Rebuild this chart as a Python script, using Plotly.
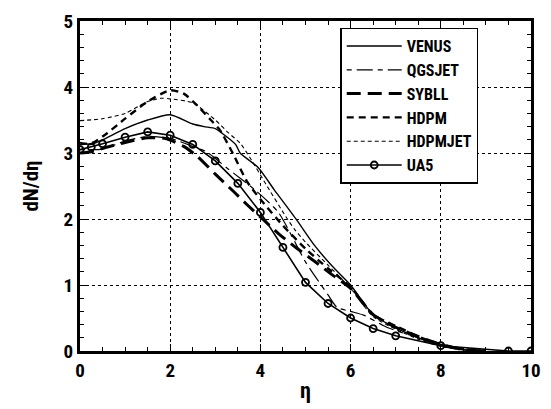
import plotly.graph_objects as go

# ---- data ----
venus_x = [0, 0.25, 0.5, 1.0, 1.5, 2.0, 2.5, 2.75, 3.0, 3.15, 3.45, 3.55, 3.95, 4.3, 4.8, 5.2, 5.6, 6.0, 6.5, 7.0, 7.5, 8.0, 8.5, 9.0]
venus_y = [3.16, 3.13, 3.2, 3.37, 3.5, 3.58, 3.44, 3.4, 3.37, 3.3, 3.13, 3.0, 2.78, 2.45, 1.99, 1.6, 1.28, 1.0, 0.55, 0.35, 0.2, 0.08, 0.02, 0.0]

qgsjet_x = [0, 0.5, 1.0, 1.5, 2.0, 2.5, 2.8, 3.3, 3.9, 4.4, 5.0, 5.5, 5.7, 6.0, 6.3, 6.8, 7.5, 7.9, 8.5, 9.0]
qgsjet_y = [3.05, 3.06, 3.18, 3.25, 3.22, 3.1, 3.02, 2.75, 2.43, 2.1, 1.35, 0.85, 0.66, 0.6, 0.54, 0.36, 0.2, 0.12, 0.02, 0.0]

sybll_x = [0, 0.25, 0.5, 1.0, 1.5, 1.9, 2.3, 2.6, 3.0, 3.4, 3.7, 4.0, 4.4, 4.8, 5.2, 5.6, 6.0, 6.5, 7.0, 7.5, 8.0, 8.5, 9.0]
sybll_y = [3.0, 3.02, 3.07, 3.16, 3.23, 3.22, 3.1, 2.95, 2.68, 2.42, 2.22, 2.03, 1.78, 1.56, 1.36, 1.15, 0.95, 0.55, 0.36, 0.22, 0.1, 0.02, 0.0]

hdpm_x = [0, 0.3, 0.6, 1.0, 1.5, 2.0, 2.3, 2.6, 2.9, 3.1, 3.4, 3.7, 4.0, 4.5, 5.0, 5.5, 6.0, 6.5, 7.0, 7.5, 8.0, 8.5, 9.0]
hdpm_y = [3.13, 3.16, 3.3, 3.52, 3.78, 3.95, 3.9, 3.72, 3.5, 3.35, 2.98, 2.57, 2.3, 1.9, 1.55, 1.25, 0.97, 0.55, 0.38, 0.22, 0.1, 0.03, 0.0]

hdpmjet_x = [0, 0.5, 1.0, 1.5, 1.8, 2.0, 2.5, 3.0, 3.3, 3.55, 3.76, 4.12, 4.56, 4.75, 5.0, 5.5, 6.0, 6.5, 7.0, 7.5, 8.0, 8.5, 9.0]
hdpmjet_y = [3.49, 3.52, 3.6, 3.78, 3.83, 3.82, 3.76, 3.5, 3.3, 3.15, 2.94, 2.53, 2.04, 1.85, 1.65, 1.3, 0.95, 0.52, 0.33, 0.18, 0.07, 0.02, 0.0]

ua5_x = [0, 0.25, 0.5, 1.0, 1.5, 2.0, 2.5, 3.0, 3.5, 4.0, 4.5, 5.0, 5.5, 6.0, 6.5, 7.0, 8.0, 9.5, 10.0]
ua5_y = [3.05, 3.09, 3.14, 3.24, 3.32, 3.27, 3.13, 2.88, 2.54, 2.1, 1.57, 1.04, 0.72, 0.5, 0.34, 0.23, 0.08, 0.0, 0.0]

x_ticks = [0, 2, 4, 6, 8, 10]
y_ticks = [0, 1, 2, 3, 4, 5]

FONT = "Liberation Sans Narrow, Roboto Condensed, Liberation Sans, Arial"

fig = go.Figure()
fig.add_trace(go.Scatter(x=venus_x, y=venus_y, name="VENUS", mode="lines",
                         line=dict(color="black", width=1.4, shape="spline", smoothing=0.6)))
fig.add_trace(go.Scatter(x=qgsjet_x, y=qgsjet_y, name="QGSJET", mode="lines",
                         line=dict(color="black", width=1.2, dash="5px,5px,16px,5px", shape="spline", smoothing=0.6)))
fig.add_trace(go.Scatter(x=sybll_x, y=sybll_y, name="SYBLL", mode="lines",
                         line=dict(color="black", width=3, dash="14px,7px", shape="spline", smoothing=0.6)))
fig.add_trace(go.Scatter(x=hdpm_x, y=hdpm_y, name="HDPM", mode="lines",
                         line=dict(color="black", width=2.4, dash="7px,5px", shape="spline", smoothing=0.6)))
fig.add_trace(go.Scatter(x=hdpmjet_x, y=hdpmjet_y, name="HDPMJET", mode="lines",
                         line=dict(color="black", width=1.1, dash="4px,3px", shape="spline", smoothing=0.6)))
fig.add_trace(go.Scatter(x=ua5_x, y=ua5_y, name="UA5", mode="lines+markers",
                         line=dict(color="black", width=1.6),
                         marker=dict(symbol="circle-open", size=7, color="black", line=dict(width=1.8))))

axis_common = dict(
    showline=True, linewidth=3, linecolor="black", mirror="allticks",
    ticks="inside", ticklen=7, tickwidth=1.2, tickcolor="black",
    showgrid=True, gridcolor="black", griddash="dot", gridwidth=1,
    zeroline=False,
    tickfont=dict(family=FONT, size=19, color="black", weight="bold"),
)

fig.update_xaxes(range=[0, 10], tickvals=x_ticks, ticktext=[str(v) for v in x_ticks],
                 minor=dict(dtick=0.5, ticks="inside", ticklen=4, tickcolor="black", showgrid=False),
                 title=dict(text="η", font=dict(family=FONT, size=22, color="black", weight="bold"), standoff=2),
                 **axis_common)
fig.update_yaxes(range=[0, 5], tickvals=y_ticks, ticktext=[str(v) for v in y_ticks],
                 minor=dict(dtick=0.2, ticks="inside", ticklen=4, tickcolor="black", showgrid=False),
                 title=dict(text="dN/dη", font=dict(family=FONT, size=21, color="black", weight="bold"), standoff=20),
                 **axis_common)

fig.update_layout(
    width=551, height=409,
    margin=dict(l=80, r=10, t=13, b=52),
    plot_bgcolor="white", paper_bgcolor="white",
    showlegend=True,
    legend=dict(x=0.577, y=0.98, xanchor="left", yanchor="top",
                bgcolor="white", bordercolor="black", borderwidth=1.5,
                font=dict(family=FONT, size=16, color="black", weight="bold"),
                tracegroupgap=0, itemwidth=55),
)

fig.write_html("out.html")
